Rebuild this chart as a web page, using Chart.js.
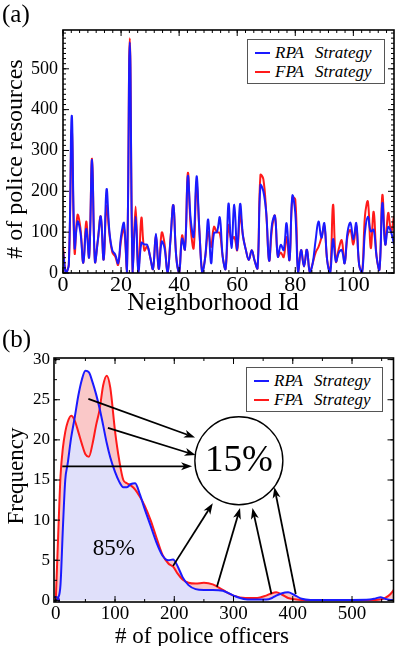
<!DOCTYPE html>
<html>
<head>
<meta charset="utf-8">
<script src="https://cdn.jsdelivr.net/npm/chart.js@4.4.1/dist/chart.umd.min.js"></script>
<style>
    body { margin: 0; background: #fff; width: 399px; height: 646px; position: relative; overflow: hidden; font-family: "Liberation Serif", "Times New Roman", serif; }
    canvas { position: absolute; left: 0; }
    #chart-a { top: 0; }
    #chart-b { top: 318px; }
    .lbl { position: absolute; color: #000; white-space: nowrap; line-height: 1; }
    .xtitle { transform: translateX(-50%); }
    .ytitle { transform: translate(-50%, -50%) rotate(-90deg); }
    .legend { position: absolute; border: 1px solid #555; background: #fff; font-style: italic; font-size: 17px; box-sizing: border-box; padding-top: 3px; }
    .legend div { position: relative; height: 19px; line-height: 19px; padding-left: 27px; word-spacing: 7px; }
    .legend .sw { position: absolute; left: 7px; top: 9px; width: 15px; height: 2px; }
</style>
</head>
<body>
<canvas id="chart-a" width="399" height="318"></canvas>
<canvas id="chart-b" width="399" height="328"></canvas>

<div class="lbl" style="left:2px; top:1px; font-size:25px;">(a)</div>
<div class="lbl" style="left:2px; top:326px; font-size:25px;">(b)</div>
<div class="lbl ytitle" style="left:14px; top:159px; font-size:24px;"># of police resources</div>
<div class="lbl xtitle" style="left:213px; top:289px; font-size:25px;">Neighborhood Id</div>
<div class="lbl ytitle" style="left:15px; top:476px; font-size:23px;">Frequency</div>
<div class="lbl xtitle" style="left:202px; top:624px; font-size:23px;"># of police officers</div>

<div class="legend" style="left:247px; top:39px; width:138px; height:45px;">
    <div><span class="sw" style="background:#1a1aff"></span>RPA Strategy</div>
    <div><span class="sw" style="background:#ff1a1a"></span>FPA Strategy</div>
</div>
<div class="legend" style="left:246px; top:367px; width:137px; height:45px;">
    <div><span class="sw" style="background:#1a1aff"></span>RPA Strategy</div>
    <div><span class="sw" style="background:#ff1a1a"></span>FPA Strategy</div>
</div>

<script>
// Panel (a): police resources per neighborhood
const rpaResources = [
    55, 0, 20, 385, 62, 126, 100, 25, 108, 39,
    277, 28, 80, 138, 33, 205, 100, 55, 45, 24,
    90, 122, 0, 565, 0, 138, 0, 74, 70, 69,
    40, 10, 96, 10, 77, 60, 0, 80, 166, 40,
    0, 84, 58, 237, 130, 89, 237, 100, 0, 40,
    131, 24, 98, 100, 136, 40, 10, 170, 61, 167,
    56, 169, 90, 56, 32, 56, 30, 12, 215, 200,
    147, 30, 120, 140, 40, 69, 56, 122, 32, 189,
    147, 0, 56, 16, 57, 2, 24, 80, 126, 86,
    122, 30, 0, 83, 28, 50, 56, 24, 100, 123,
    82, 122, 20, 0, 100, 138, 102, 106, 40, 8,
    171, 70, 113, 100, 70
];
const fpaResources = [
    65, 0, 20, 350, 49, 142, 110, 25, 126, 39,
    280, 28, 80, 138, 33, 164, 95, 50, 40, 20,
    80, 110, 0, 575, 0, 163, 0, 135, 55, 65,
    40, 10, 93, 10, 99, 70, 0, 80, 166, 40,
    0, 92, 58, 245, 110, 61, 216, 100, 0, 40,
    101, 64, 113, 100, 98, 40, 10, 117, 82, 88,
    56, 142, 90, 56, 32, 56, 30, 12, 240, 230,
    147, 30, 110, 140, 40, 50, 39, 88, 32, 185,
    180, 0, 56, 16, 57, 2, 24, 50, 64, 86,
    115, 30, 0, 167, 28, 60, 80, 24, 90, 105,
    70, 115, 20, 0, 140, 175, 61, 150, 40, 8,
    191, 70, 147, 101, 140
];
const neighborhoodIds = rpaResources.map((_, i) => i);
const idTicks = [0, 20, 40, 60, 80, 100];
const resourceTicks = [0, 100, 200, 300, 400, 500];

// Panel (b): frequency of police officer counts
const officers = [
    0, 4, 8, 12, 16, 20, 26, 32, 38, 44, 50, 56, 62, 68, 74, 80, 86, 92, 100, 107,
    114, 120, 127, 134, 142, 150, 160, 170, 180, 190, 198, 206, 214, 224, 236, 250, 265, 282, 300, 320,
    340, 355, 365, 372, 382, 392, 402, 415, 430, 460, 500, 530, 540, 548, 556, 565, 575
];
const rpaFreq = [
    0, 0.3, 2, 9, 15, 17, 20.3, 22.8, 25.5, 27.5, 28.6, 28.4, 27.2, 25.7, 23.9, 21.8, 19.6, 17.8, 16.0, 14.8,
    14.1, 14.1, 14.5, 14.6, 13.2, 11.4, 9.3, 7.2, 5.6, 5.0, 5.1, 4.2, 2.9, 1.9, 1.4, 1.3, 1.3, 1.2, 0.6, 0.15,
    0.1, 0.1, 0.3, 0.6, 0.9, 1.0, 0.7, 0.2, 0.05, 0.05, 0.05, 0.1, 0.25, 0.4, 0.2, 0.05, 0.05
];
const fpaFreq = [
    0, 8, 15.5, 19, 21, 22.2, 23, 22.4, 21, 19.5, 18.2, 17.9, 19.5, 21.8, 23.8, 26.8, 28, 26.5, 21.1, 17.5,
    15, 14.6, 14.3, 13.8, 12.9, 11.8, 10, 7.8, 5.7, 4.6, 4.2, 3.3, 2.6, 2.2, 2.1, 2.2, 2.0, 1.3, 0.6, 0.3,
    0.3, 0.6, 0.9, 1.0, 0.7, 0.3, 0.15, 0.05, 0.05, 0.05, 0.05, 0.05, 0.05, 0.1, 0.3, 0.8, 1.8
];
const officerTicks = [0, 100, 200, 300, 400, 500];
const freqTicks = [0, 5, 10, 15, 20, 25, 30];

// Annotation anchors (data coordinates of panel b)
const arrowTails = [[55, 25.1], [88, 21.5], [11, 16.7], [198, 4.3], [272, 1.7], [364, 0.8], [405, 0.8]];
const arrowHeads = [[235, 20.3], [236, 18.1], [230, 16.7], [265, 12.1], [311, 11.5], [332, 11.5], [369, 14.1]];
const circleAt = [309, 17.4];
const mainShareAt = [98, 6.4];

const BLUE = '#1a1aff';
const RED = '#ff1a1a';
const SERIF = '"Liberation Serif", "Times New Roman", serif';

Chart.defaults.font.family = SERIF;
Chart.defaults.color = '#000';

// Frame + inward major/minor ticks on all four sides
const frameTicks = {
    id: 'frameTicks',
    afterDatasetsDraw(chart, args, opts) {
        const { ctx, chartArea: a, scales: { x, y } } = chart;
        ctx.save();
        ctx.strokeStyle = '#000';
        ctx.lineWidth = 1;
        const marks = (scale, step, len, horizontal) => {
            const n0 = Math.ceil(scale.min / step - 1e-6);
            const n1 = Math.floor(scale.max / step + 1e-6);
            ctx.beginPath();
            for (let k = n0; k <= n1; k++) {
                const p = scale.getPixelForValue(k * step);
                if (horizontal) {
                    ctx.moveTo(p, a.bottom); ctx.lineTo(p, a.bottom - len);
                    ctx.moveTo(p, a.top); ctx.lineTo(p, a.top + len);
                } else {
                    ctx.moveTo(a.left, p); ctx.lineTo(a.left + len, p);
                    ctx.moveTo(a.right, p); ctx.lineTo(a.right - len, p);
                }
            }
            ctx.stroke();
        };
        marks(x, opts.xMinor, 3, true);
        marks(x, opts.xMajor, 6, true);
        marks(y, opts.yMinor, 3, false);
        marks(y, opts.yMajor, 6, false);
        ctx.lineWidth = 1.6;
        ctx.strokeRect(a.left, a.top, a.width, a.height);
        ctx.restore();
    }
};

function drawArrow(ctx, x0, y0, x1, y1) {
    const ang = Math.atan2(y1 - y0, x1 - x0);
    const len = 11, half = 4;
    const bx = x1 - len * Math.cos(ang), by = y1 - len * Math.sin(ang);
    ctx.beginPath();
    ctx.moveTo(x0, y0);
    ctx.lineTo(bx + 3 * Math.cos(ang), by + 3 * Math.sin(ang));
    ctx.stroke();
    ctx.beginPath();
    ctx.moveTo(x1, y1);
    ctx.lineTo(bx - half * Math.sin(ang), by + half * Math.cos(ang));
    ctx.lineTo(bx + 3 * Math.cos(ang), by + 3 * Math.sin(ang));
    ctx.lineTo(bx + half * Math.sin(ang), by - half * Math.cos(ang));
    ctx.closePath();
    ctx.fill();
}

const shareNotes = {
    id: 'shareNotes',
    afterDatasetsDraw(chart) {
        const { ctx, scales: { x, y } } = chart;
        ctx.save();
        ctx.strokeStyle = '#000';
        ctx.fillStyle = '#000';
        ctx.lineWidth = 1.8;
        arrowTails.forEach((t, i) => {
            const h = arrowHeads[i];
            drawArrow(ctx, x.getPixelForValue(t[0]), y.getPixelForValue(t[1]),
                x.getPixelForValue(h[0]), y.getPixelForValue(h[1]));
        });
        const cx = x.getPixelForValue(circleAt[0]);
        const cy = y.getPixelForValue(circleAt[1]);
        ctx.lineWidth = 1.4;
        ctx.beginPath();
        ctx.arc(cx, cy, 44, 0, Math.PI * 2);
        ctx.stroke();
        ctx.textAlign = 'center';
        ctx.textBaseline = 'middle';
        ctx.font = '37px ' + SERIF;
        ctx.fillText('15%', cx, cy + 1);
        ctx.font = '23px ' + SERIF;
        ctx.fillText('85%', x.getPixelForValue(mainShareAt[0]), y.getPixelForValue(mainShareAt[1]));
        ctx.restore();
    }
};

const fixedTicks = values => scale => { scale.ticks = values.map(v => ({ value: v })); };

// ---- Panel (a)
new Chart(document.getElementById('chart-a'), {
    type: 'line',
    data: {
        labels: neighborhoodIds,
        datasets: [
            { label: 'RPA Strategy', data: rpaResources, borderColor: BLUE, borderWidth: 2, tension: 0.4, pointRadius: 0, fill: false },
            { label: 'FPA Strategy', data: fpaResources, borderColor: RED, borderWidth: 2, tension: 0.4, pointRadius: 0, fill: false }
        ]
    },
    options: {
        responsive: false,
        animation: false,
        layout: { padding: { top: 30, right: 5, left: 0, bottom: 0 } },
        plugins: {
            legend: { display: false },
            tooltip: { enabled: false },
            frameTicks: { xMajor: 20, xMinor: 20 / 7, yMajor: 100, yMinor: 12.5 }
        },
        scales: {
            x: {
                type: 'linear', min: 0, max: 114,
                afterFit: s => { s.height = 45; },
                afterBuildTicks: fixedTicks(idTicks),
                grid: { display: false, drawTicks: false },
                border: { display: false },
                ticks: { autoSkip: false, padding: 1, maxRotation: 0, font: { size: 22, lineHeight: 1 } }
            },
            y: {
                min: 0, max: 595,
                afterFit: s => { s.width = 63; },
                afterBuildTicks: fixedTicks(resourceTicks),
                grid: { display: false, drawTicks: false },
                border: { display: false },
                ticks: { autoSkip: false, padding: 5, font: { size: 18, lineHeight: 1 } }
            }
        }
    },
    plugins: [frameTicks]
});

// ---- Panel (b)
new Chart(document.getElementById('chart-b'), {
    type: 'line',
    data: {
        labels: officers,
        datasets: [
            {
                label: 'RPA Strategy', data: rpaFreq, borderColor: BLUE, borderWidth: 2,
                cubicInterpolationMode: 'monotone',
                fill: { target: 1, above: 'rgb(250, 200, 200)', below: 'rgb(250, 200, 200)' },
                pointRadius: c => (c.dataIndex === 0 ? 3.5 : 0),
                pointBorderColor: BLUE, pointBackgroundColor: 'rgba(0,0,0,0)', pointBorderWidth: 1.5
            },
            {
                label: 'FPA Strategy', data: fpaFreq, borderColor: RED, borderWidth: 2,
                cubicInterpolationMode: 'monotone',
                fill: { target: 'origin', above: 'rgb(224, 224, 250)' },
                pointRadius: c => (c.dataIndex === 0 ? 3.5 : 0),
                pointBorderColor: RED, pointBackgroundColor: 'rgba(0,0,0,0)', pointBorderWidth: 1.5
            }
        ]
    },
    options: {
        responsive: false,
        animation: false,
        layout: { padding: { top: 40, right: 5, left: 0, bottom: 0 } },
        plugins: {
            legend: { display: false },
            tooltip: { enabled: false },
            filler: { drawTime: 'beforeDatasetsDraw' },
            frameTicks: { xMajor: 100, xMinor: 50, yMajor: 5, yMinor: 2.5 }
        },
        scales: {
            x: {
                type: 'linear', min: -3, max: 570,
                afterFit: s => { s.height = 44; },
                afterBuildTicks: fixedTicks(officerTicks),
                grid: { display: false, drawTicks: false },
                border: { display: false },
                ticks: { autoSkip: false, padding: 3, maxRotation: 0, font: { size: 19, lineHeight: 1 } }
            },
            y: {
                min: -0.2, max: 30.2,
                afterFit: s => { s.width = 54; },
                afterBuildTicks: fixedTicks(freqTicks),
                grid: { display: false, drawTicks: false },
                border: { display: false },
                ticks: { autoSkip: false, padding: 4, font: { size: 17, lineHeight: 1 } }
            }
        }
    },
    plugins: [frameTicks, shareNotes]
});
</script>
</body>
</html>
